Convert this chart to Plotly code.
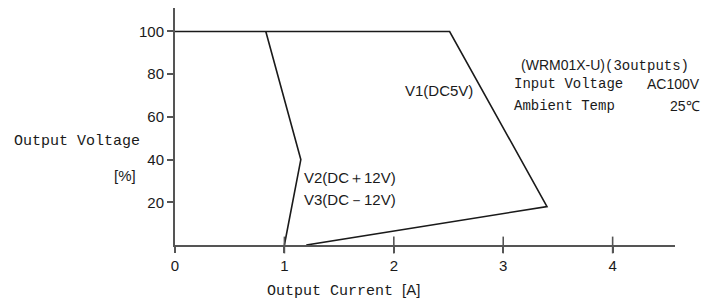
import plotly.graph_objects as go

# data
v1_x = [0, 2.51, 3.40, 1.20]
v1_y = [100, 100, 18, 0]
v23_x = [0.83, 1.15, 1.00]
v23_y = [100, 40, 0]
x_ticks = [0, 1, 2, 3, 4]
y_ticks = [20, 40, 60, 80, 100]

SANS = "Liberation Sans, Arial, sans-serif"
MONO = "Liberation Mono, DejaVu Sans Mono, monospace"
INK = "#1a1a1a"
AX = "#555555"

fig = go.Figure()
fig.add_trace(go.Scatter(x=v1_x, y=v1_y, mode="lines",
                         line=dict(color=INK, width=1.6), showlegend=False, hoverinfo="skip"))
fig.add_trace(go.Scatter(x=v23_x, y=v23_y, mode="lines",
                         line=dict(color=INK, width=1.6), showlegend=False, hoverinfo="skip"))
# x tick marks crossing the axis
fig.add_trace(go.Scatter(x=x_ticks[1:], y=[0] * (len(x_ticks) - 1), mode="markers",
                         marker=dict(symbol="line-ns", size=12, line=dict(color=AX, width=1.6)),
                         showlegend=False, hoverinfo="skip", cliponaxis=False))

def ann(text, x, y, xanchor="left", yanchor="middle", font=SANS, size=15):
    fig.add_annotation(text=text, x=x, y=y, xref="paper", yref="paper", xanchor=xanchor, yanchor=yanchor,
                       showarrow=False, font=dict(family=font, size=size, color=INK))

ann("V1(DC5V)", 0.600, 0.654, xanchor="right")
ann("V2(DC＋12V)", 0.254, 0.283)
ann("V3(DC－12V)", 0.254, 0.190)
ann("(WRM01X-U)<span style='font-family:Liberation Mono'>(3outputs)</span>", 0.688, 0.757, size=14)
ann("Input Voltage", 0.674, 0.681, font=MONO, size=14)
ann("AC100V", 1.054, 0.681, xanchor="right", size=14)
ann("Ambient Temp", 0.674, 0.588, font=MONO, size=14)
ann("25℃", 1.054, 0.588, xanchor="right", size=14)
ann("Output Voltage", -0.066, 0.435, xanchor="right", font=MONO)
ann("[%]", -0.074, 0.295, xanchor="right")
ann("Output Current <span style='font-family:Liberation Sans'>[A]</span>", 0.18, -0.19, font=MONO)

fig.update_layout(
    width=706, height=293,
    margin=dict(l=167, r=39, t=0, b=56),
    paper_bgcolor="white", plot_bgcolor="white",
    showlegend=False,
)
fig.update_xaxes(range=[0, 4.57], tickvals=x_ticks, ticktext=[str(v) for v in x_ticks],
                 showgrid=False, zeroline=False, showline=True, linecolor=AX, linewidth=2,
                 ticks="outside", ticklen=6, tickcolor=AX, tickwidth=1.6,
                 tickfont=dict(family=SANS, size=15, color=INK))
fig.update_yaxes(range=[0, 111], tickvals=y_ticks, ticktext=[str(v) for v in y_ticks],
                 showgrid=False, zeroline=False, showline=True, linecolor=AX, linewidth=2,
                 ticks="outside", ticklen=6, tickcolor=AX, tickwidth=1.6,
                 tickfont=dict(family=SANS, size=15, color=INK))

fig.write_html("out.html")
